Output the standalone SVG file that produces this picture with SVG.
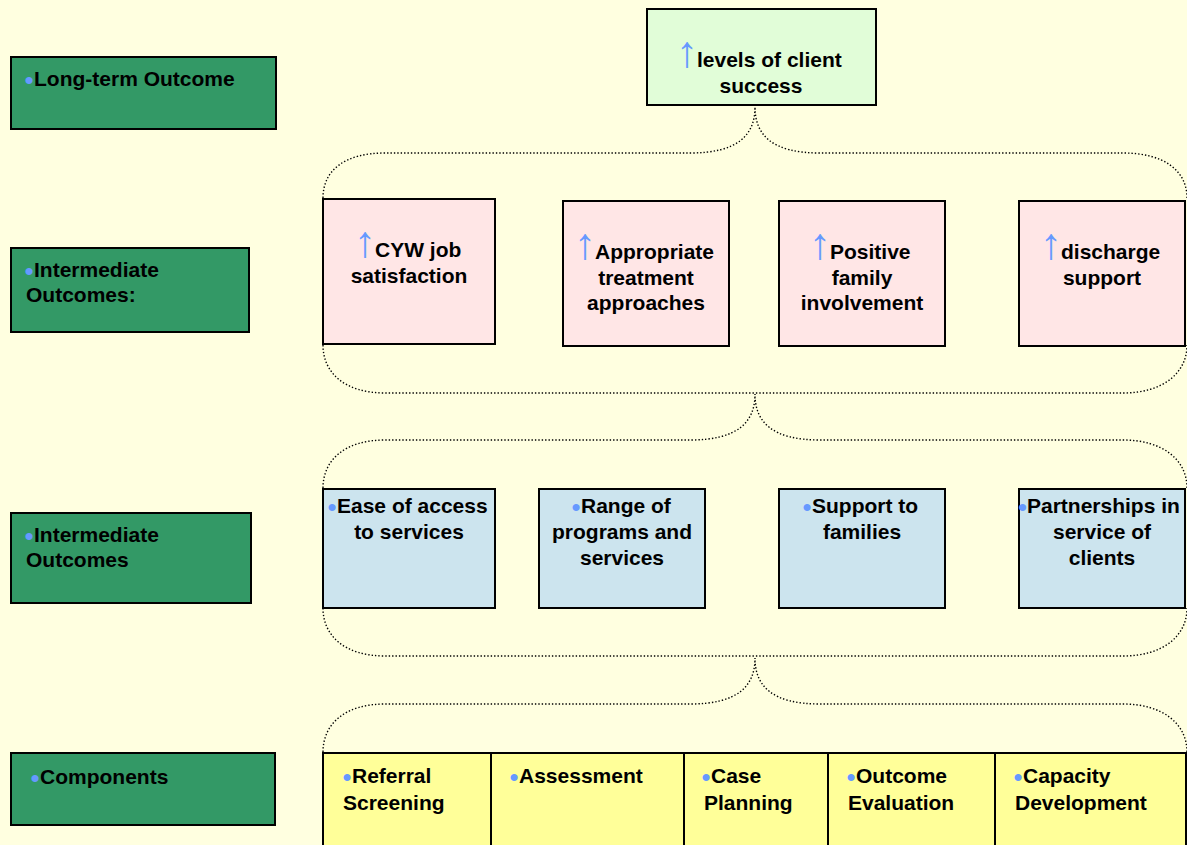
<svg xmlns="http://www.w3.org/2000/svg" width="1187" height="845" viewBox="0 0 1187 845">
<style>
.t{font-family:"Liberation Sans",Arial,sans-serif;font-weight:bold;font-size:21px;fill:#000}
.c{text-anchor:middle}
.b{font-family:"Liberation Sans",Arial,sans-serif;font-weight:normal;font-size:26px;fill:#6699ff}
.ar{font-family:"Liberation Sans","DejaVu Sans",sans-serif;font-weight:normal;font-size:44px;fill:#6699ff}
.box{stroke:#000;stroke-width:2}
.g{fill:#339966}
.pk{fill:#ffe6e6}
.bl{fill:#cce4ee}
.yl{fill:#ffff99}
.dot{fill:none;stroke:#000;stroke-width:1.4;stroke-dasharray:1.4 2}
</style>
<rect width="1187" height="845" fill="#ffffe0"/>

<g id="connectors">
<path class="dot" d="M323,198 C323,170 345,153 385,153 L690,153 C738,153 755,135 755,107 C755,135 772,153 820,153 L1123,153 C1163,153 1187,170 1187,198"/>
<path class="dot" d="M323,345 C323,373 345,393 385,393 L1123,393 C1163,393 1187,373 1187,345"/>
<path class="dot" d="M323,488 C323,460 345,440 385,440 L690,440 C738,440 755,422 755,394 C755,422 772,440 820,440 L1123,440 C1163,440 1187,460 1187,488"/>
<path class="dot" d="M323,608 C323,636 345,656 385,656 L1123,656 C1163,656 1187,636 1187,608"/>
<path class="dot" d="M323,752 C323,724 345,704 385,704 L690,704 C738,704 755,686 755,658 C755,686 772,704 820,704 L1123,704 C1163,704 1187,724 1187,752"/>
</g>

<g id="label-longterm">
<rect class="box g" x="11" y="57" width="265" height="72"/>
<text class="t"><tspan class="b" x="24.5" y="89">•</tspan><tspan x="34" y="86">Long-term Outcome</tspan></text>
</g>
<g id="label-intermediate1">
<rect class="box g" x="11" y="248" width="238" height="84"/>
<text class="t"><tspan class="b" x="24.5" y="280">•</tspan><tspan x="34" y="277">Intermediate</tspan></text>
<text class="t" x="26" y="302">Outcomes:</text>
</g>
<g id="label-intermediate2">
<rect class="box g" x="11" y="513" width="240" height="90"/>
<text class="t"><tspan class="b" x="24.5" y="545">•</tspan><tspan x="34" y="542">Intermediate</tspan></text>
<text class="t" x="26" y="567">Outcomes</text>
</g>
<g id="label-components">
<rect class="box g" x="11" y="753" width="264" height="72"/>
<text class="t"><tspan class="b" x="30.5" y="787">•</tspan><tspan x="40" y="784">Components</tspan></text>
</g>

<g id="node-success">
<rect class="box" fill="#e1fdd8" x="647" y="9" width="229" height="96"/>
<text class="t"><tspan class="ar" x="676" y="67">↑</tspan><tspan x="697" y="67">levels of client</tspan></text>
<text class="t c" x="761" y="93">success</text>
</g>

<g id="node-cyw">
<rect class="box pk" x="323" y="199" width="172" height="145"/>
<text class="t"><tspan class="ar" x="354" y="257">↑</tspan><tspan x="375" y="257">CYW job</tspan></text>
<text class="t c" x="409" y="283">satisfaction</text>
</g>
<g id="node-treatment">
<rect class="box pk" x="563" y="201" width="166" height="145"/>
<text class="t"><tspan class="ar" x="574" y="259">↑</tspan><tspan x="595" y="259">Appropriate</tspan></text>
<text class="t c" x="646" y="285">treatment</text>
<text class="t c" x="646" y="310">approaches</text>
</g>
<g id="node-family">
<rect class="box pk" x="779" y="201" width="166" height="145"/>
<text class="t"><tspan class="ar" x="809" y="259">↑</tspan><tspan x="830" y="259">Positive</tspan></text>
<text class="t c" x="862" y="285">family</text>
<text class="t c" x="862" y="310">involvement</text>
</g>
<g id="node-discharge">
<rect class="box pk" x="1019" y="201" width="166" height="145"/>
<text class="t"><tspan class="ar" x="1040" y="259">↑</tspan><tspan x="1061" y="259">discharge</tspan></text>
<text class="t c" x="1102" y="285">support</text>
</g>

<g id="node-access">
<rect class="box bl" x="323" y="489" width="172" height="119"/>
<text class="t"><tspan class="b" x="327.5" y="516">•</tspan><tspan x="337" y="513">Ease of access</tspan></text>
<text class="t c" x="409" y="539">to services</text>
</g>
<g id="node-range">
<rect class="box bl" x="539" y="489" width="166" height="119"/>
<text class="t"><tspan class="b" x="571.5" y="516">•</tspan><tspan x="581" y="513">Range of</tspan></text>
<text class="t c" x="622" y="539">programs and</text>
<text class="t c" x="622" y="565">services</text>
</g>
<g id="node-families">
<rect class="box bl" x="779" y="489" width="166" height="119"/>
<text class="t"><tspan class="b" x="802.5" y="516">•</tspan><tspan x="812" y="513">Support to</tspan></text>
<text class="t c" x="862" y="539">families</text>
</g>
<g id="node-partnerships">
<rect class="box bl" x="1019" y="489" width="166" height="119"/>
<text class="t"><tspan class="b" x="1018" y="516">•</tspan><tspan x="1027" y="513">Partnerships in</tspan></text>
<text class="t c" x="1102" y="539">service of</text>
<text class="t c" x="1102" y="565">clients</text>
</g>

<g id="node-referral">
<rect class="box yl" x="323" y="753" width="168" height="100"/>
<text class="t"><tspan class="b" x="342.5" y="786">•</tspan><tspan x="352" y="783">Referral</tspan></text>
<text class="t" x="343" y="810">Screening</text>
</g>
<g id="node-assessment">
<rect class="box yl" x="491" y="753" width="193" height="100"/>
<text class="t"><tspan class="b" x="509.5" y="786">•</tspan><tspan x="519" y="783">Assessment</tspan></text>
</g>
<g id="node-caseplanning">
<rect class="box yl" x="684" y="753" width="144" height="100"/>
<text class="t"><tspan class="b" x="701.5" y="786">•</tspan><tspan x="711" y="783">Case</tspan></text>
<text class="t" x="704" y="810">Planning</text>
</g>
<g id="node-evaluation">
<rect class="box yl" x="828" y="753" width="167" height="100"/>
<text class="t"><tspan class="b" x="846.5" y="786">•</tspan><tspan x="856" y="783">Outcome</tspan></text>
<text class="t" x="848" y="810">Evaluation</text>
</g>
<g id="node-capacity">
<rect class="box yl" x="995" y="753" width="191" height="100"/>
<text class="t"><tspan class="b" x="1013.5" y="786">•</tspan><tspan x="1023" y="783">Capacity</tspan></text>
<text class="t" x="1015" y="810">Development</text>
</g>
</svg>
